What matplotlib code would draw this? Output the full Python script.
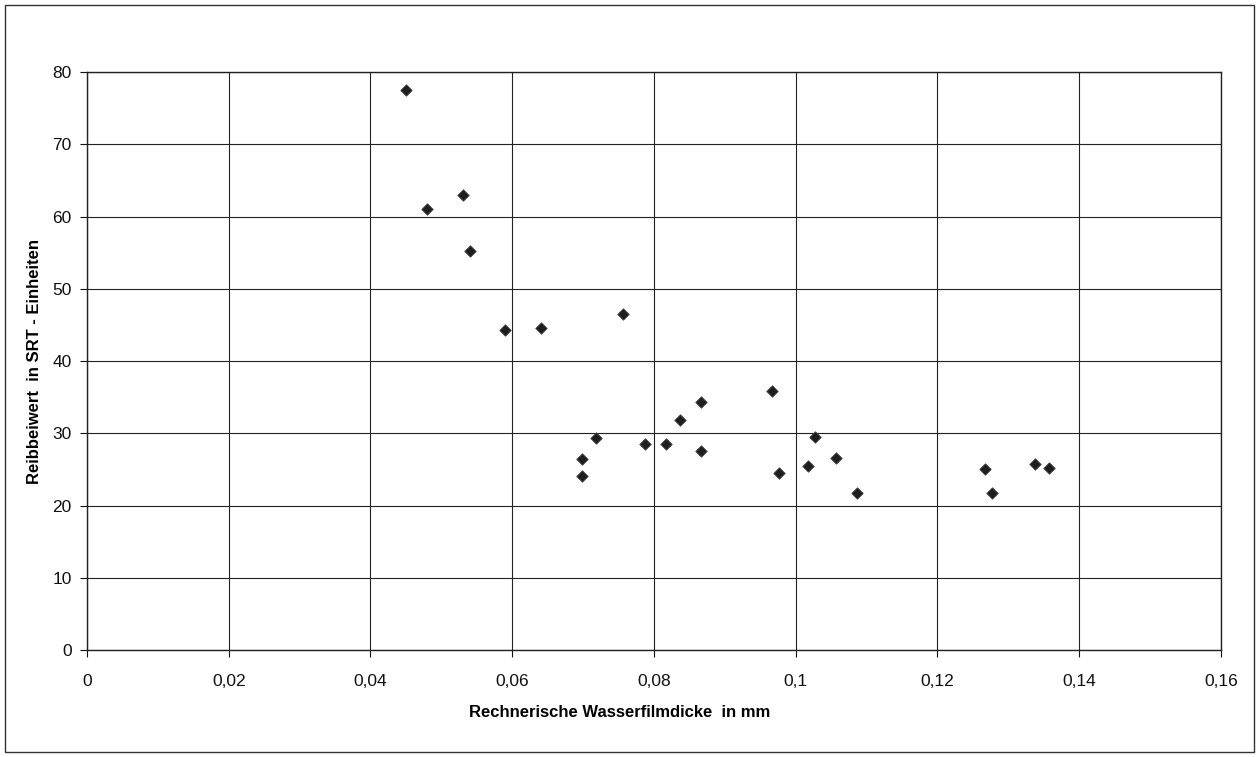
import matplotlib.pyplot as plt
from matplotlib.patches import Rectangle
from matplotlib.ticker import FuncFormatter

plt.rcParams["font.family"] = ["Liberation Sans", "DejaVu Sans"]

# Wasserfilmdicke (mm) und Reibbeiwert (SRT)
film_mm = [0.045, 0.048, 0.053, 0.054, 0.059, 0.064, 0.0757, 0.0698, 0.0698,
           0.0718, 0.0787, 0.0817, 0.0837, 0.0867, 0.0867, 0.0967, 0.0977, 0.1017,
           0.1027, 0.1057, 0.1087, 0.1267, 0.1277, 0.1337, 0.1357]
srt = [77.5, 61.0, 63.0, 55.2, 44.3, 44.6, 46.5, 26.4, 24.1,
       29.3, 28.6, 28.6, 31.8, 34.4, 27.5, 35.8, 24.5, 25.5,
       29.5, 26.6, 21.7, 25.1, 21.7, 25.7, 25.2]

x_ticks = [0, 0.02, 0.04, 0.06, 0.08, 0.1, 0.12, 0.14, 0.16]
y_ticks = [0, 10, 20, 30, 40, 50, 60, 70, 80]


def comma_fmt(v, pos):
    if abs(v) < 1e-12:
        return "0"
    return ("%g" % v).replace(".", ",")


fig = plt.figure(figsize=(12.6, 7.57), dpi=100, facecolor="white")
fig.patches.append(Rectangle((0.004, 0.006), 0.991, 0.988, transform=fig.transFigure,
                             fill=False, edgecolor="#333333", linewidth=1.0))

ax = fig.add_axes([0.069, 0.141, 0.900, 0.764])
ax.scatter(film_mm, srt, marker="D", s=34, color="#1e1e1e", edgecolors="#444444",
           linewidths=0.6, zorder=3)

ax.set_xlim(0, 0.16)
ax.set_ylim(0, 80)
ax.set_xticks(x_ticks)
ax.set_yticks(y_ticks)
ax.xaxis.set_major_formatter(FuncFormatter(comma_fmt))
ax.yaxis.set_major_formatter(FuncFormatter(comma_fmt))
ax.grid(True, color="#222222", linewidth=0.8)
ax.set_axisbelow(True)
for spine in ax.spines.values():
    spine.set_color("#222222")
    spine.set_linewidth(1.0)
ax.tick_params(axis="both", colors="#111111", labelsize=12.5, length=5, width=0.8,
               direction="out")
ax.tick_params(axis="x", pad=12)
ax.tick_params(axis="y", pad=6)

ax.set_xlabel("Rechnerische Wasserfilmdicke  in mm", fontsize=12, fontweight="bold")
ax.set_ylabel("Reibbeiwert  in SRT - Einheiten", fontsize=12, fontweight="bold")
ax.xaxis.set_label_coords(0.47, -0.095)
ax.yaxis.set_label_coords(-0.040, 0.5)

fig.savefig("out.png", dpi=100, facecolor="white")
